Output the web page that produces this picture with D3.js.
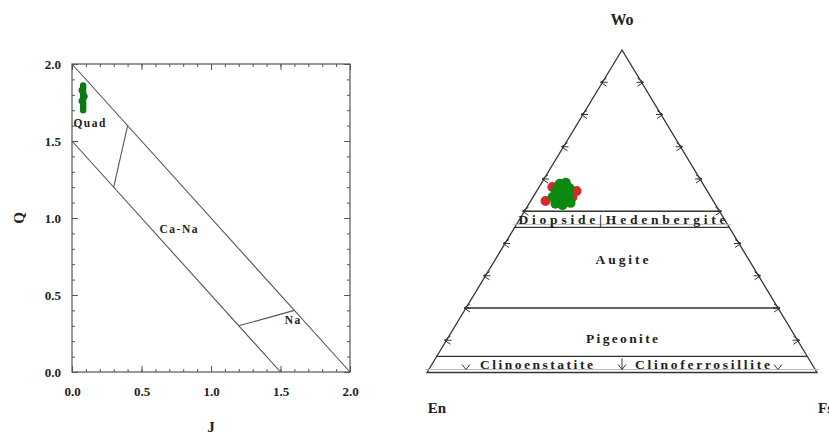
<!DOCTYPE html>
<html>
<head>
<meta charset="utf-8">
<script src="https://cdn.jsdelivr.net/npm/d3@7"></script>
<style>
body { margin: 0; background: #fff; }
text { font-family: "Liberation Serif", "DejaVu Serif", serif; font-weight: bold; fill: #222; }
</style>
</head>
<body>
<svg id="chart" width="829" height="439"></svg>
<script>
// ---- Q-J diagram (Morimoto) ----
var qjJ = [0.08, 0.08, 0.08, 0.07, 0.08, 0.08, 0.08, 0.09, 0.08, 0.08, 0.07, 0.08, 0.08, 0.08, 0.08, 0.08, 0.08];
var qjQ = [1.86, 1.85, 1.84, 1.83, 1.82, 1.81, 1.80, 1.79, 1.78, 1.77, 1.76, 1.75, 1.74, 1.73, 1.72, 1.71, 1.70];
var qjMajor = [0, 0.5, 1, 1.5, 2];
var qjMinor = d3.range(0, 2.01, 0.1);
// boundary segments [J1, Q1, J2, Q2]
var qjLines = [[0, 2, 2, 0], [0, 1.5, 1.5, 0], [0.3, 1.2, 0.4, 1.6], [1.2, 0.3, 1.6, 0.4]];
var qjNames = ["Quad", "Ca-Na", "Na"];
var qjNameJ = [0.01, 0.63, 1.53];
var qjNameQ = [1.59, 0.9, 0.31];

// ---- Wo-En-Fs ternary (percent) ----
var woGreen = [58.5, 58.8, 57.2, 56.6, 56.3, 55.0, 54.4, 54.1, 53.5, 52.3, 51.9, 52.6];
var enGreen = [36.7, 35.0, 34.9, 38.7, 37.1, 36.2, 40.6, 39.0, 37.4, 40.9, 39.3, 36.9];
var fsGreen = [4.8, 6.2, 7.9, 4.7, 6.6, 8.8, 5.0, 6.9, 9.1, 6.8, 8.8, 10.5];
var woRed = [57.5, 56.3, 53.2, 54.4];
var enRed = [39.1, 33.5, 43.0, 35.5];
var fsRed = [3.4, 10.2, 3.8, 10.1];
var woLevels = [50, 45, 20, 5];
var edgeTicks = [10, 20, 30, 40, 50, 60, 70, 80, 90];
var baseTicks = [10, 50, 90];

var svg = d3.select("#chart");

// ================= left plot =================
var x = d3.scaleLinear().domain([0, 2]).range([72, 350]);
var y = d3.scaleLinear().domain([0, 2]).range([372, 64]);
var fmt = d3.format(".1f");

var left = svg.append("g");

left.append("rect")
    .attr("x", x(0)).attr("y", y(2))
    .attr("width", x(2) - x(0)).attr("height", y(0) - y(2))
    .attr("fill", "none").attr("stroke", "#555").attr("stroke-width", 1.2);

function styleAxis(g) {
    g.select(".domain").remove();
    g.selectAll("line").attr("stroke", "#555");
    g.selectAll("text").attr("font-size", 13).style("font-family", "Liberation Serif, serif").attr("fill", "#333");
}

left.append("g").attr("transform", "translate(0," + y(0) + ")")
    .call(d3.axisBottom(x).tickValues(qjMinor).tickSize(-3).tickFormat("")).call(styleAxis);
left.append("g").attr("transform", "translate(0," + y(0) + ")")
    .call(d3.axisBottom(x).tickValues(qjMajor).tickSize(-6).tickPadding(15).tickFormat(fmt)).call(styleAxis);
left.append("g").attr("transform", "translate(0," + y(2) + ")")
    .call(d3.axisTop(x).tickValues(qjMinor).tickSize(-3).tickFormat("")).call(styleAxis);
left.append("g").attr("transform", "translate(0," + y(2) + ")")
    .call(d3.axisTop(x).tickValues(qjMajor).tickSize(-6).tickFormat("")).call(styleAxis);
left.append("g").attr("transform", "translate(" + x(0) + ",0)")
    .call(d3.axisLeft(y).tickValues(qjMinor).tickSize(-3).tickFormat("")).call(styleAxis);
left.append("g").attr("transform", "translate(" + x(0) + ",0)")
    .call(d3.axisLeft(y).tickValues(qjMajor).tickSize(-6).tickPadding(11).tickFormat(fmt)).call(styleAxis);
left.append("g").attr("transform", "translate(" + x(2) + ",0)")
    .call(d3.axisRight(y).tickValues(qjMinor).tickSize(-3).tickFormat("")).call(styleAxis);
left.append("g").attr("transform", "translate(" + x(2) + ",0)")
    .call(d3.axisRight(y).tickValues(qjMajor).tickSize(-6).tickFormat("")).call(styleAxis);

left.selectAll(".bound").data(qjLines).enter().append("line")
    .attr("x1", function(d){ return x(d[0]); })
    .attr("y1", function(d){ return y(d[1]); })
    .attr("x2", function(d){ return x(d[2]); })
    .attr("y2", function(d){ return y(d[3]); })
    .attr("stroke", "#555").attr("stroke-width", 1.1);

left.selectAll(".qjname").data(qjNames).enter().append("text")
    .text(function(d){ return d; })
    .attr("x", function(d, i){ return x(qjNameJ[i]); })
    .attr("y", function(d, i){ return y(qjNameQ[i]); })
    .attr("font-size", 11.5)
    .attr("letter-spacing", 1.5);

left.selectAll(".qjpt").data(qjJ).enter().append("circle")
    .attr("cx", function(d){ return x(d); })
    .attr("cy", function(d, i){ return y(qjQ[i]); })
    .attr("r", 3.2)
    .attr("fill", "#0b7a12");

left.append("text").text("J")
    .attr("x", x(1)).attr("y", 432)
    .attr("text-anchor", "middle").attr("font-size", 15);
left.append("text").text("Q")
    .attr("transform", "translate(24," + y(1) + ") rotate(-90)")
    .attr("text-anchor", "middle").attr("font-size", 15);

// ================= ternary plot =================
var ty = d3.scaleLinear().domain([0, 100]).range([372.5, 50]);
var tx = d3.scaleLinear().domain([0, 100]).range([427, 817]);
function tern(wo, en, fs) {
    return [tx(fs + wo / 2), ty(wo)];
}

var tri = svg.append("g");
var corners = [tern(100, 0, 0), tern(0, 100, 0), tern(0, 0, 100)];
tri.append("path")
    .attr("d", d3.line()(corners) + "Z")
    .attr("fill", "none").attr("stroke", "#333").attr("stroke-width", 1.3);

tri.selectAll(".wol").data(woLevels).enter().append("line")
    .attr("x1", function(d){ return tern(d, 100 - d, 0)[0]; })
    .attr("y1", function(d){ return tern(d, 100 - d, 0)[1]; })
    .attr("x2", function(d){ return tern(d, 0, 100 - d)[0]; })
    .attr("y2", function(d){ return tern(d, 0, 100 - d)[1]; })
    .attr("stroke", "#333").attr("stroke-width", 1.4);

// faint doubled lines as in the scan
tri.selectAll(".wol2").data([45, 0]).enter().append("line")
    .attr("x1", function(d){ return tern(d, 100 - d, 0)[0] - 2; })
    .attr("y1", function(d){ return tern(d, 100 - d, 0)[1] - 3; })
    .attr("x2", function(d){ return tern(d, 0, 100 - d)[0] + 2; })
    .attr("y2", function(d){ return tern(d, 0, 100 - d)[1] - 3; })
    .attr("stroke", "#bbb").attr("stroke-width", 1);

// chevron ticks
function chevron(p, dir) {
    var a = 4;
    if (dir == "left") return "M" + (p[0] + a) + "," + (p[1] - a) + "L" + (p[0] - 2) + "," + p[1] + "L" + (p[0] + a) + "," + (p[1] + a) + "M" + (p[0] - 2) + "," + p[1] + "L" + (p[0] + 5) + "," + p[1];
    if (dir == "right") return "M" + (p[0] - a) + "," + (p[1] - a) + "L" + (p[0] + 2) + "," + p[1] + "L" + (p[0] - a) + "," + (p[1] + a) + "M" + (p[0] + 2) + "," + p[1] + "L" + (p[0] - 5) + "," + p[1];
    return "M" + (p[0] - a) + "," + (p[1] - 8) + "L" + p[0] + "," + (p[1] - 3) + "L" + (p[0] + a) + "," + (p[1] - 8);
}
tri.selectAll(".tl").data(edgeTicks).enter().append("path")
    .attr("d", function(d){ return chevron(tern(d, 100 - d, 0), "left"); })
    .attr("fill", "none").attr("stroke", "#333").attr("stroke-width", 1);
tri.selectAll(".tr").data(edgeTicks).enter().append("path")
    .attr("d", function(d){ return chevron(tern(d, 0, 100 - d), "right"); })
    .attr("fill", "none").attr("stroke", "#333").attr("stroke-width", 1);
tri.selectAll(".tb").data(baseTicks).enter().append("path")
    .attr("d", function(d){ return chevron(tern(0, 100 - d, d), "down"); })
    .attr("fill", "none").attr("stroke", "#333").attr("stroke-width", 1);
tri.append("line")
    .attr("x1", tern(0, 50, 50)[0]).attr("y1", tern(0, 50, 50)[1] - 3)
    .attr("x2", tern(0, 50, 50)[0]).attr("y2", tern(5, 47.5, 47.5)[1] + 2)
    .attr("stroke", "#333");

// field names
var fieldNames = ["Diopside|Hedenbergite", "Augite", "Pigeonite", "Clinoenstatite", "Clinoferrosillite"];
var fieldWo = [47.5, 35, 10.5, 2.5, 2.5];
var fieldFs = [26.25, 32.5, 44.75, 26.8, 69.4];
var fieldLen = [207, 53, 72, 113, 135];
tri.selectAll(".fname").data(fieldNames).enter().append("text")
    .text(function(d){ return d; })
    .attr("x", function(d, i){ return tern(fieldWo[i], 100 - fieldWo[i] - fieldFs[i], fieldFs[i])[0]; })
    .attr("y", function(d, i){ return tern(fieldWo[i], 100 - fieldWo[i] - fieldFs[i], fieldFs[i])[1] + 4.5; })
    .attr("text-anchor", "middle")
    .attr("font-size", 13.5)
    .attr("textLength", function(d, i){ return fieldLen[i]; })
    .attr("lengthAdjust", "spacing");

// points
tri.selectAll(".rp").data(woRed).enter().append("circle")
    .attr("cx", function(d, i){ return tern(d, enRed[i], fsRed[i])[0]; })
    .attr("cy", function(d, i){ return tern(d, enRed[i], fsRed[i])[1]; })
    .attr("r", 5).attr("fill", "#d42a2a");
tri.selectAll(".gp").data(woGreen).enter().append("circle")
    .attr("cx", function(d, i){ return tern(d, enGreen[i], fsGreen[i])[0]; })
    .attr("cy", function(d, i){ return tern(d, enGreen[i], fsGreen[i])[1]; })
    .attr("r", 5).attr("fill", "#0b8a12");

tri.append("text").text("Wo").attr("x", corners[0][0]).attr("y", 25)
    .attr("text-anchor", "middle").attr("font-size", 16);
tri.append("text").text("En").attr("x", corners[1][0] + 10).attr("y", 413)
    .attr("text-anchor", "middle").attr("font-size", 15);
tri.append("text").text("Fs").attr("x", 818).attr("y", 413)
    .attr("font-size", 15);
</script>
</body>
</html>
